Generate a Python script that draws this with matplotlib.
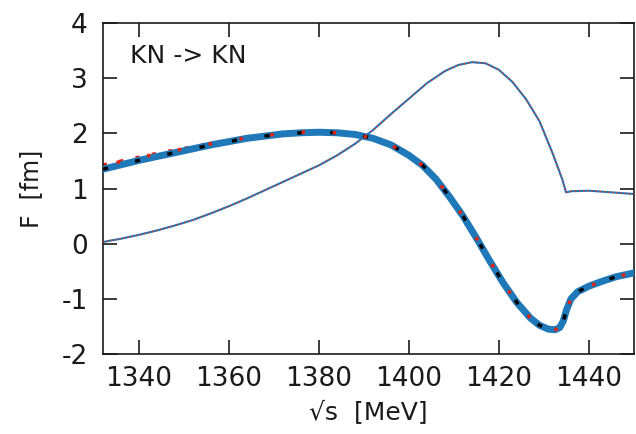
import numpy as np
import matplotlib
matplotlib.use('Agg')
import matplotlib.pyplot as plt
import matplotlib.ticker as ticker

# real part (thick blue / black dashed)
re_x = [1332, 1336, 1340, 1344, 1348, 1352, 1356, 1360, 1364, 1368, 1372, 1376,
        1380, 1384, 1388, 1392, 1396, 1400, 1403, 1406, 1409, 1412, 1415, 1418,
        1421, 1424, 1427, 1429, 1431, 1432.5, 1433.5, 1434.3, 1435, 1436, 1437.5,
        1440, 1443, 1446, 1450]
re_y = [1.35, 1.43, 1.51, 1.58, 1.65, 1.72, 1.79, 1.85, 1.91, 1.95, 1.99, 2.01,
        2.02, 2.01, 1.98, 1.91, 1.79, 1.60, 1.42, 1.17, 0.85, 0.50, 0.10, -0.32,
        -0.72, -1.07, -1.35, -1.48, -1.55, -1.56, -1.52, -1.40, -1.20, -1.00, -0.87,
        -0.77, -0.68, -0.60, -0.53]

# real part, second model (red dotted), slightly above on the left
re2_y = [1.42, 1.49, 1.56, 1.63, 1.69, 1.75, 1.81, 1.87, 1.92, 1.96, 2.00, 2.02,
         2.03, 2.01, 1.98, 1.91, 1.79, 1.60, 1.42, 1.17, 0.85, 0.50, 0.10, -0.32,
         -0.72, -1.07, -1.35, -1.48, -1.55, -1.56, -1.52, -1.40, -1.20, -1.00, -0.87,
         -0.77, -0.68, -0.60, -0.53]

# imaginary part (thin)
im_x = [1332, 1336, 1340, 1344, 1348, 1352, 1356, 1360, 1364, 1368, 1372, 1376,
        1380, 1384, 1388, 1392, 1396, 1400, 1404, 1408, 1411, 1414, 1417, 1420,
        1423, 1426, 1429, 1432, 1434, 1434.9, 1436, 1440, 1445, 1450]
im_y = [0.03, 0.09, 0.16, 0.24, 0.33, 0.43, 0.55, 0.68, 0.82, 0.97, 1.12, 1.27,
        1.42, 1.60, 1.81, 2.06, 2.35, 2.63, 2.91, 3.13, 3.24, 3.29, 3.27, 3.15,
        2.93, 2.62, 2.22, 1.62, 1.18, 0.93, 0.95, 0.96, 0.93, 0.90]

x_ticks = [1340, 1360, 1380, 1400, 1420, 1440]
y_ticks = [-2, -1, 0, 1, 2, 3, 4]

BLUE = '#1f78b8'
INK = '#1a1a1a'

plt.rcParams['font.family'] = ['DejaVu Sans']
plt.rcParams['axes.unicode_minus'] = False
plt.rc('font', size=19)

fig = plt.figure(figsize=(6.36, 4.34), dpi=100)
ax = fig.add_axes([103 / 636, 1 - 354 / 434, 531 / 636, 331 / 434])

ax.plot(im_x, im_y, color=BLUE, linewidth=1.5, zorder=2)
ax.plot(im_x, im_y, color='#e03020', linewidth=1.0, dashes=(1, 2), zorder=3)

ax.plot(re_x, re2_y, color='#e8200c', linewidth=3.0, dashes=(1, 3), zorder=2)
ax.plot(re_x, re_y, color=BLUE, linewidth=5, zorder=3)
ax.plot(re_x, re_y, color='black', linewidth=2.5, dashes=(1.5, 8), zorder=4)
ax.plot(re_x, re2_y, color='#e8200c', linewidth=2.5, linestyle=(5, (1, 8)), zorder=5)

ax.set_xlim(1332, 1450)
ax.set_ylim(-2, 4)
ax.set_xticks(x_ticks)
ax.set_yticks(y_ticks)
ax.tick_params(direction='in', length=10, width=1.2, top=True, right=True,
               colors=INK, labelsize=19)
ax.tick_params(axis='y', pad=11)
ax.tick_params(axis='x', pad=9)
for s in ax.spines.values():
    s.set_linewidth(1.2)
    s.set_color(INK)

ax.text(0.05, 0.9, 'KN -> KN', transform=ax.transAxes, fontsize=18, va='center', ha='left', color=INK)
ax.set_xlabel('\u221as  [MeV]', fontsize=18, color=INK, labelpad=6)
ax.set_ylabel('F  [fm]', fontsize=17, color=INK, labelpad=13)

fig.savefig('out.png', dpi=100)
